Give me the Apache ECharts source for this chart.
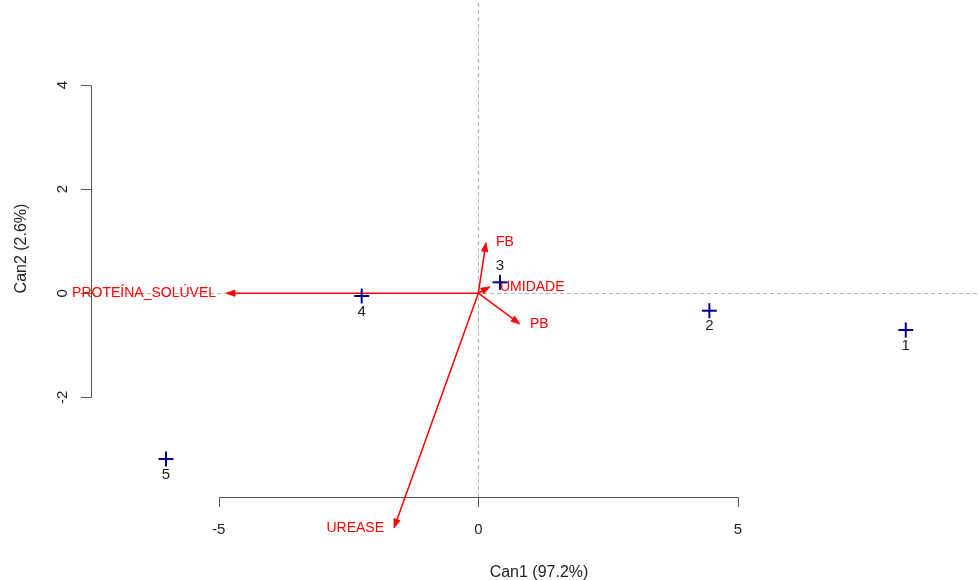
<!DOCTYPE html>
<html>
<head>
<meta charset="utf-8">
<script src="https://cdn.jsdelivr.net/npm/echarts@6/dist/echarts.min.js"></script>
<style>
  html, body { margin: 0; padding: 0; background: #ffffff; }
  #chart { width: 980px; height: 580px; }
</style>
</head>
<body>
<div id="chart"></div>
<script>
// Group centroids on the first two canonical dimensions
const groups = ['1', '2', '3', '4', '5'];
const can1 = [8.235, 4.451, 0.418, -2.247, -6.017];
const can2 = [-0.707, -0.336, 0.209, -0.054, -3.185];

// Variable structure vectors (arrow tips)
const variables = ['FB', 'UMIDADE', 'PB', 'PROTEÍNA_SOLÚVEL', 'UREASE'];
const varCan1 = [0.148, 0.225, 0.803, -4.861, -1.624];
const varCan2 = [0.974, 0.125, -0.592, 0, -4.511];

// Axis ticks and titles
const xTicks = [-5, 0, 5];
const yTicks = [-2, 0, 2, 4];
const xTitle = 'Can1 (97.2%)';
const yTitle = 'Can2 (2.6%)';

// Plot window (data units)
const X_MIN = -7.462, X_MAX = 9.80;
const Y_MIN = -3.915, Y_MAX = 5.633;

const FONT = "'Liberation Sans', Arial, Helvetica, sans-serif";
const AXIS_COLOR = '#555555';
const TEXT_COLOR = '#222222';
const ARROW_COLOR = '#ff0000';
const POINT_COLOR = '#00008b';
// group labels drawn above their marker instead of below
const labelAbove = new Set(['3']);

const chart = echarts.init(document.getElementById('chart'), null, { renderer: 'canvas' });

function renderAxisLines(params, api) {
  const which = api.value(0);
  let a, b;
  if (which === 0) {
    a = api.coord([xTicks[0], Y_MIN]);
    b = api.coord([xTicks[xTicks.length - 1], Y_MIN]);
  } else {
    a = api.coord([X_MIN, yTicks[0]]);
    b = api.coord([X_MIN, yTicks[yTicks.length - 1]]);
  }
  return {
    type: 'line',
    shape: { x1: Math.round(a[0]) + 0.5, y1: Math.round(a[1]) + 0.5, x2: Math.round(b[0]) + 0.5, y2: Math.round(b[1]) + 0.5 },
    style: { stroke: AXIS_COLOR, lineWidth: 1 }
  };
}

function renderArrow(params, api) {
  const i = params.dataIndex;
  const o = api.coord([0, 0]);
  const t = api.coord([api.value(0), api.value(1)]);
  const dx = t[0] - o[0], dy = t[1] - o[1];
  const len = Math.sqrt(dx * dx + dy * dy) || 1;
  const ux = dx / len, uy = dy / len;
  const px = -uy, py = ux;
  const L = 9, W = 3.2;
  const bx = t[0] - ux * L, by = t[1] - uy * L;
  const left = api.value(0) < 0;
  return {
    type: 'group',
    children: [
      {
        type: 'line',
        shape: { x1: o[0], y1: o[1], x2: bx, y2: by },
        style: { stroke: ARROW_COLOR, lineWidth: 1.5 }
      },
      {
        type: 'polygon',
        shape: { points: [[t[0], t[1]], [bx + px * W, by + py * W], [bx - px * W, by - py * W]] },
        style: { fill: ARROW_COLOR, stroke: ARROW_COLOR, lineWidth: 0.8 }
      },
      {
        type: 'text',
        x: t[0] + (left ? -10 : 10),
        y: t[1],
        style: {
          text: variables[i],
          fill: ARROW_COLOR,
          font: '14px ' + FONT,
          align: left ? 'right' : 'left',
          verticalAlign: 'middle'
        }
      }
    ]
  };
}

function renderPoint(params, api) {
  const i = params.dataIndex;
  const c = api.coord([api.value(0), api.value(1)]);
  const h = 7.5;
  const above = labelAbove.has(groups[i]);
  return {
    type: 'group',
    children: [
      {
        type: 'line',
        shape: { x1: c[0] - h, y1: c[1], x2: c[0] + h, y2: c[1] },
        style: { stroke: POINT_COLOR, lineWidth: 2 }
      },
      {
        type: 'line',
        shape: { x1: c[0], y1: c[1] - h, x2: c[0], y2: c[1] + h },
        style: { stroke: POINT_COLOR, lineWidth: 2 }
      },
      {
        type: 'text',
        x: c[0],
        y: c[1] + (above ? -16 : 15.5),
        style: {
          text: groups[i],
          fill: TEXT_COLOR,
          font: '15px ' + FONT,
          align: 'center',
          verticalAlign: 'middle'
        }
      }
    ]
  };
}

const option = {
  backgroundColor: '#ffffff',
  animation: false,
  textStyle: { fontFamily: FONT },
  grid: { left: 91, right: -7, top: 0, bottom: 83, containLabel: false, outerBoundsMode: 'none' },
  xAxis: {
    type: 'value',
    min: X_MIN,
    max: X_MAX,
    axisLine: { show: false, onZero: false },
    splitLine: { show: false },
    axisTick: { show: true, customValues: xTicks, length: 10, lineStyle: { color: AXIS_COLOR, width: 1 } },
    axisLabel: { show: true, customValues: xTicks, margin: 25, fontSize: 15, color: TEXT_COLOR, fontFamily: FONT },
    name: xTitle,
    nameLocation: 'middle',
    nameGap: 68,
    nameTextStyle: { fontSize: 16, color: TEXT_COLOR, fontFamily: FONT }
  },
  yAxis: {
    type: 'value',
    min: Y_MIN,
    max: Y_MAX,
    axisLine: { show: false, onZero: false },
    splitLine: { show: false },
    axisTick: { show: true, customValues: yTicks, length: 10, lineStyle: { color: AXIS_COLOR, width: 1 } },
    axisLabel: { show: true, customValues: yTicks, rotate: 90, margin: 21, fontSize: 15, color: TEXT_COLOR, fontFamily: FONT },
    name: yTitle,
    nameLocation: 'middle',
    nameGap: 61,
    nameTextStyle: { fontSize: 16, color: TEXT_COLOR, fontFamily: FONT }
  },
  series: [
    {
      type: 'line',
      data: [],
      z: 1,
      silent: true,
      markLine: {
        silent: true,
        z: 1,
        symbol: 'none',
        label: { show: false },
        lineStyle: { type: [4, 3], color: '#b5b5b5', width: 1 },
        data: [{ xAxis: 0 }, { yAxis: 0 }]
      }
    },
    {
      type: 'custom',
      z: 6,
      silent: true,
      clip: false,
      renderItem: renderAxisLines,
      data: [[0], [1]]
    },
    {
      type: 'custom',
      z: 10,
      silent: true,
      clip: false,
      renderItem: renderArrow,
      data: varCan1.map((v, i) => [v, varCan2[i]])
    },
    {
      type: 'custom',
      z: 11,
      silent: true,
      clip: false,
      renderItem: renderPoint,
      data: can1.map((v, i) => [v, can2[i]])
    }
  ]
};

chart.setOption(option);
</script>
</body>
</html>
